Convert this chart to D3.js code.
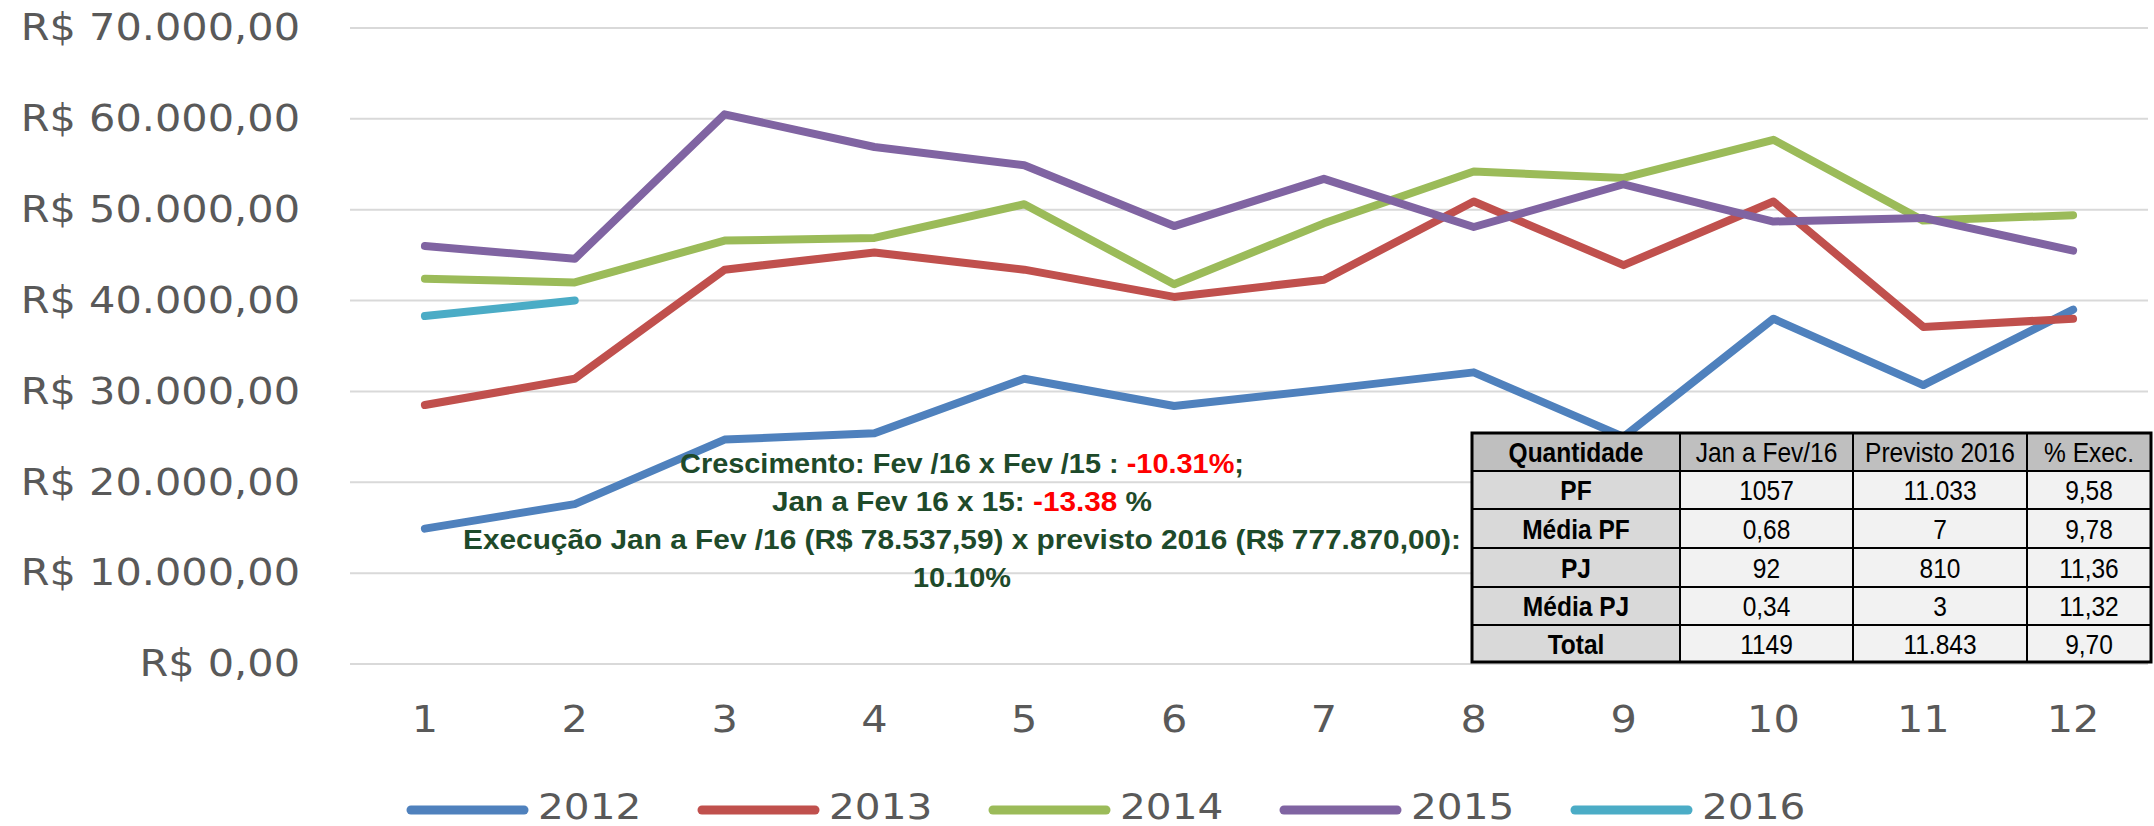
<!DOCTYPE html>
<html>
<head>
<meta charset="utf-8">
<script src="https://cdn.jsdelivr.net/npm/d3@7"></script>
<style>
  html, body { margin: 0; padding: 0; background: #fff; }
  svg { display: block; }
</style>
</head>
<body>
<svg id="chart" width="2154" height="826"></svg>
<script>
// months on the category axis
const months = [1, 2, 3, 4, 5, 6, 7, 8, 9, 10, 11, 12];

// monthly values (R$) per year
const v2012 = [14900, 17600, 24700, 25400, 31400, 28400, 30200, 32100, 25000, 38000, 30700, 39000];
const v2013 = [28500, 31400, 43400, 45300, 43400, 40400, 42300, 50900, 43900, 50900, 37100, 38000];
const v2014 = [42400, 42000, 46600, 46900, 50600, 41800, 48500, 54200, 53500, 57700, 48800, 49400];
const v2015 = [46000, 44600, 60500, 56900, 54900, 48200, 53400, 48100, 52800, 48700, 49100, 45500];
const v2016 = [38300, 40000];

const seriesNames = ['2012', '2013', '2014', '2015', '2016'];
const seriesValues = [v2012, v2013, v2014, v2015, v2016];
const seriesColors = ['#4f81bd', '#c0504d', '#9bbb59', '#8064a2', '#4bacc6'];

const yTicks = [0, 10000, 20000, 30000, 40000, 50000, 60000, 70000];

// summary table
const tableHeader = ['Quantidade', 'Jan a Fev/16', 'Previsto 2016', '% Exec.'];
const tableRowLabels = ['PF', 'Média PF', 'PJ', 'Média PJ', 'Total'];
const tableJanFev = ['1057', '0,68', '92', '0,34', '1149'];
const tablePrevisto = ['11.033', '7', '810', '3', '11.843'];
const tableExec = ['9,58', '9,78', '11,36', '11,32', '9,70'];

// annotation lines
const noteLines = [
  [['Crescimento: Fev /16 x Fev /15 : ', false], ['-10.31%', true], [';', false]],
  [['Jan a Fev 16 x 15: ', false], ['-13.38', true], [' %', false]],
  [['Execução Jan a Fev /16 (R$ 78.537,59) x previsto 2016 (R$ 777.870,00):', false]],
  [['10.10%', false]]
];

drawChart();

// stretch/squeeze a text horizontally (the reference fonts are wider / narrower)
function stretch(sel, k) {
  sel.each(function () {
    const w = this.getComputedTextLength();
    d3.select(this)
      .attr('textLength', w * k)
      .attr('lengthAdjust', 'spacingAndGlyphs');
  });
}

function drawChart() {
  const svg = d3.select('#chart');
  const axisFont = '"DejaVu Sans", Verdana, sans-serif';
  const axisColor = '#595959';
  const wide = 1.12;

  const x = d3.scaleBand().domain(months).range([350, 2148]);
  const y = d3.scaleLinear().domain([0, 70000]).range([664, 28]);
  const cx = m => x(m) + x.bandwidth() / 2;

  const br = d3.formatLocale({ decimal: ',', thousands: '.', grouping: [3], currency: ['R$ ', ''] });
  const money = br.format('$,.2f');

  // gridlines
  svg.append('g')
    .selectAll('line')
    .data(yTicks)
    .enter()
    .append('line')
    .attr('x1', 350)
    .attr('x2', 2148)
    .attr('y1', d => y(d))
    .attr('y2', d => y(d))
    .attr('stroke', '#d9d9d9')
    .attr('stroke-width', 2);

  // y axis
  const yAxis = svg.append('g')
    .attr('transform', 'translate(350,0)')
    .call(d3.axisLeft(y).tickValues(yTicks).tickFormat(money).tickSize(0).tickPadding(50));
  yAxis.select('.domain').remove();
  yAxis.selectAll('text')
    .attr('fill', axisColor)
    .style('font-family', axisFont)
    .style('font-size', '37px')
    .call(stretch, wide);

  // x axis
  const xAxis = svg.append('g')
    .attr('transform', 'translate(0,664)')
    .call(d3.axisBottom(x).tickSize(0).tickPadding(42));
  xAxis.select('.domain').remove();
  xAxis.selectAll('text')
    .attr('fill', axisColor)
    .style('font-family', axisFont)
    .style('font-size', '37px')
    .call(stretch, wide);

  // lines
  const line = d3.line()
    .x((d, i) => cx(months[i]))
    .y(d => y(d));

  svg.append('g')
    .selectAll('path')
    .data(seriesValues)
    .enter()
    .append('path')
    .attr('d', d => line(d))
    .attr('fill', 'none')
    .attr('stroke', (d, i) => seriesColors[i])
    .attr('stroke-width', 8)
    .attr('stroke-linejoin', 'round')
    .attr('stroke-linecap', 'round');

  // legend
  const legend = svg.append('g')
    .selectAll('g')
    .data(seriesNames)
    .enter()
    .append('g')
    .attr('transform', (d, i) => `translate(${411 + i * 291},810)`);

  legend.append('line')
    .attr('x1', 0)
    .attr('x2', 113)
    .attr('stroke', (d, i) => seriesColors[i])
    .attr('stroke-width', 9)
    .attr('stroke-linecap', 'round');

  legend.append('text')
    .attr('x', 127)
    .attr('y', 9)
    .text(d => d)
    .attr('fill', axisColor)
    .style('font-family', axisFont)
    .style('font-size', '35px')
    .call(stretch, 1.16);

  // annotation
  const noteWidths = [564, 380, 998, 98];
  const note = svg.append('g')
    .style('font-family', '"Liberation Sans", Arial, sans-serif')
    .style('font-weight', 'bold')
    .style('font-size', '28px');

  noteLines.forEach((parts, i) => {
    const t = note.append('text')
      .attr('x', 962)
      .attr('y', 473 + i * 38)
      .attr('text-anchor', 'middle')
      .attr('textLength', noteWidths[i])
      .attr('lengthAdjust', 'spacingAndGlyphs');
    parts.forEach(([txt, red]) => {
      t.append('tspan')
        .attr('fill', red ? '#ff0000' : '#1e4a2a')
        .text(txt);
    });
  });

  drawTable(svg);
}

function drawTable(svg) {
  const colEdges = [1472, 1680, 1853, 2027, 2151];
  const rowEdges = [433, 471, 509, 548, 587, 625, 662];
  const cols = [tableRowLabels, tableJanFev, tablePrevisto, tableExec];

  const g = svg.append('g')
    .style('font-family', '"Liberation Sans", Arial, sans-serif')
    .style('font-size', '28.5px');

  for (let r = 0; r < rowEdges.length - 1; r++) {
    for (let c = 0; c < colEdges.length - 1; c++) {
      const isHead = r === 0;
      const fill = isHead ? '#bfbfbf' : (c === 0 ? '#d9d9d9' : '#f2f2f2');
      const label = isHead ? tableHeader[c] : cols[c][r - 1];
      const bold = c === 0;

      g.append('rect')
        .attr('x', colEdges[c])
        .attr('y', rowEdges[r])
        .attr('width', colEdges[c + 1] - colEdges[c])
        .attr('height', rowEdges[r + 1] - rowEdges[r])
        .attr('fill', fill)
        .attr('stroke', '#000')
        .attr('stroke-width', 2);

      g.append('text')
        .attr('x', (colEdges[c] + colEdges[c + 1]) / 2)
        .attr('y', (rowEdges[r] + rowEdges[r + 1]) / 2)
        .attr('dy', '0.36em')
        .attr('text-anchor', 'middle')
        .style('font-weight', bold ? 'bold' : 'normal')
        .attr('fill', '#000')
        .text(label)
        .call(stretch, 0.86);
    }
  }

  // outer border
  g.append('rect')
    .attr('x', colEdges[0])
    .attr('y', rowEdges[0])
    .attr('width', colEdges[colEdges.length - 1] - colEdges[0])
    .attr('height', rowEdges[rowEdges.length - 1] - rowEdges[0])
    .attr('fill', 'none')
    .attr('stroke', '#000')
    .attr('stroke-width', 3);
}
</script>
</body>
</html>
